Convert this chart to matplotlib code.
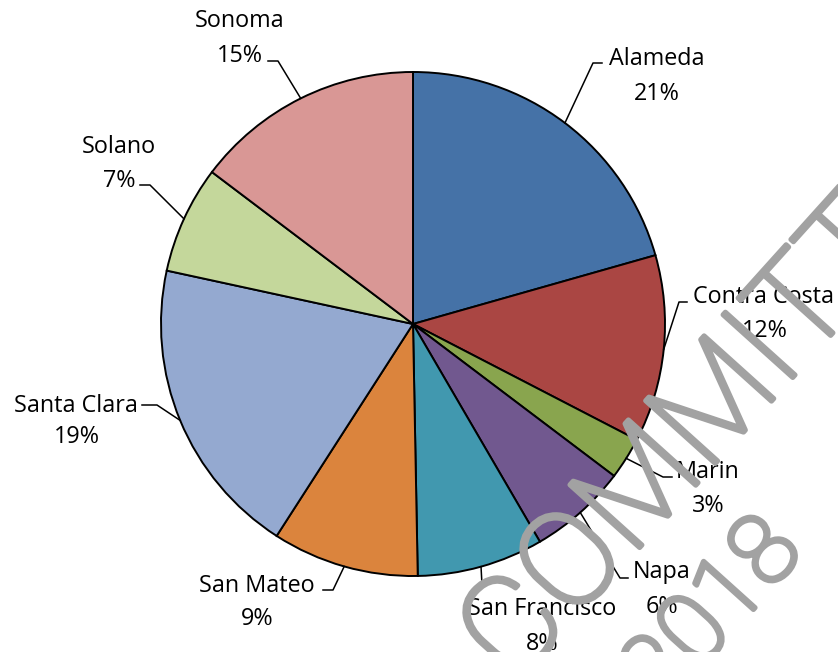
import matplotlib.pyplot as plt
import matplotlib.patheffects as pe
import numpy as np

# county shares of the total (percent)
counties = ["Alameda", "Contra Costa", "Marin", "Napa", "San Francisco",
            "San Mateo", "Santa Clara", "Solano", "Sonoma"]
shares = [20.6, 12.0, 2.7, 6.3, 8.1, 9.4, 19.3, 6.9, 14.7]
colors = ["#4572A7", "#AA4643", "#89A54E", "#71588F", "#4198AF",
          "#DB843D", "#94A9D0", "#C4D79B", "#D99795"]

W, H = 838, 652

# label layout in pixel coords (y down): name centre x, name baseline, pct centre x, pct baseline
label_pos = [(657, 65, 657, 100), (763, 303, 765, 337), (708, 478, 708, 512),
             (662, 578, 662, 613), (542, 615, 542, 650), (257, 592, 257, 625),
             (76, 412, 77, 443), (119, 153, 119, 187), (240, 27, 240, 62)]
# leader line elbow and end (pixel coords)
leader_pos = [((593, 63), (602, 63)), ((679, 302), (687, 302)), ((663, 477), (672, 477)),
              ((620, 578), (628, 578)), ((482, 585), (482, 585)), ((333, 590), (323, 590)),
              ((157, 405), (142, 405)), ((150, 185), (140, 185)), ((278, 61), (268, 61))]

plt.rcParams['font.family'] = ['Open Sans', 'DejaVu Sans']

fig = plt.figure(figsize=(W / 100, H / 100), dpi=100)
ax = fig.add_axes([0, 0, 1, 1])

cx, cy, R = 413, H - 324, 252
wedges, _ = ax.pie(shares, colors=colors, startangle=90, counterclock=False,
                   center=(cx, cy), radius=R,
                   wedgeprops=dict(edgecolor="black", linewidth=1.4))
ax.set_xlim(0, W)
ax.set_ylim(0, H)
ax.set_aspect("equal")
ax.axis("off")

for w, name, val, (nx, ny, px, py), (elb, end) in zip(wedges, counties, shares, label_pos, leader_pos):
    mid = np.deg2rad((w.theta1 + w.theta2) / 2)
    ax_, ay_ = cx + R * np.cos(mid), cy + R * np.sin(mid)
    ax.plot([ax_, elb[0], end[0]], [ay_, H - elb[1], H - end[1]],
            color="black", lw=1.1, zorder=3)
    ax.text(nx, H - ny, name, ha="center", va="baseline", fontsize=16.8, zorder=4)
    ax.text(px, H - py, f"{round(val)}%", ha="center", va="baseline", fontsize=16.8, zorder=4)

# watermark
wm_color = "#a2a2a2"
wm_fx = [pe.Stroke(linewidth=3.6, foreground=wm_color), pe.Normal()]
ax.text(515, H - 686, "COMMITTEE", rotation=48, rotation_mode="anchor",
        ha="left", va="baseline", fontsize=95, family="Roboto", fontweight="light",
        color=wm_color, zorder=5, clip_on=False, path_effects=wm_fx)
ax.text(663, H - 710, "2018", rotation=48, rotation_mode="anchor",
        ha="left", va="baseline", fontsize=70, family="Roboto", fontweight="light",
        color=wm_color, zorder=5, clip_on=False, path_effects=wm_fx)

fig.savefig("out.png", dpi=100)
